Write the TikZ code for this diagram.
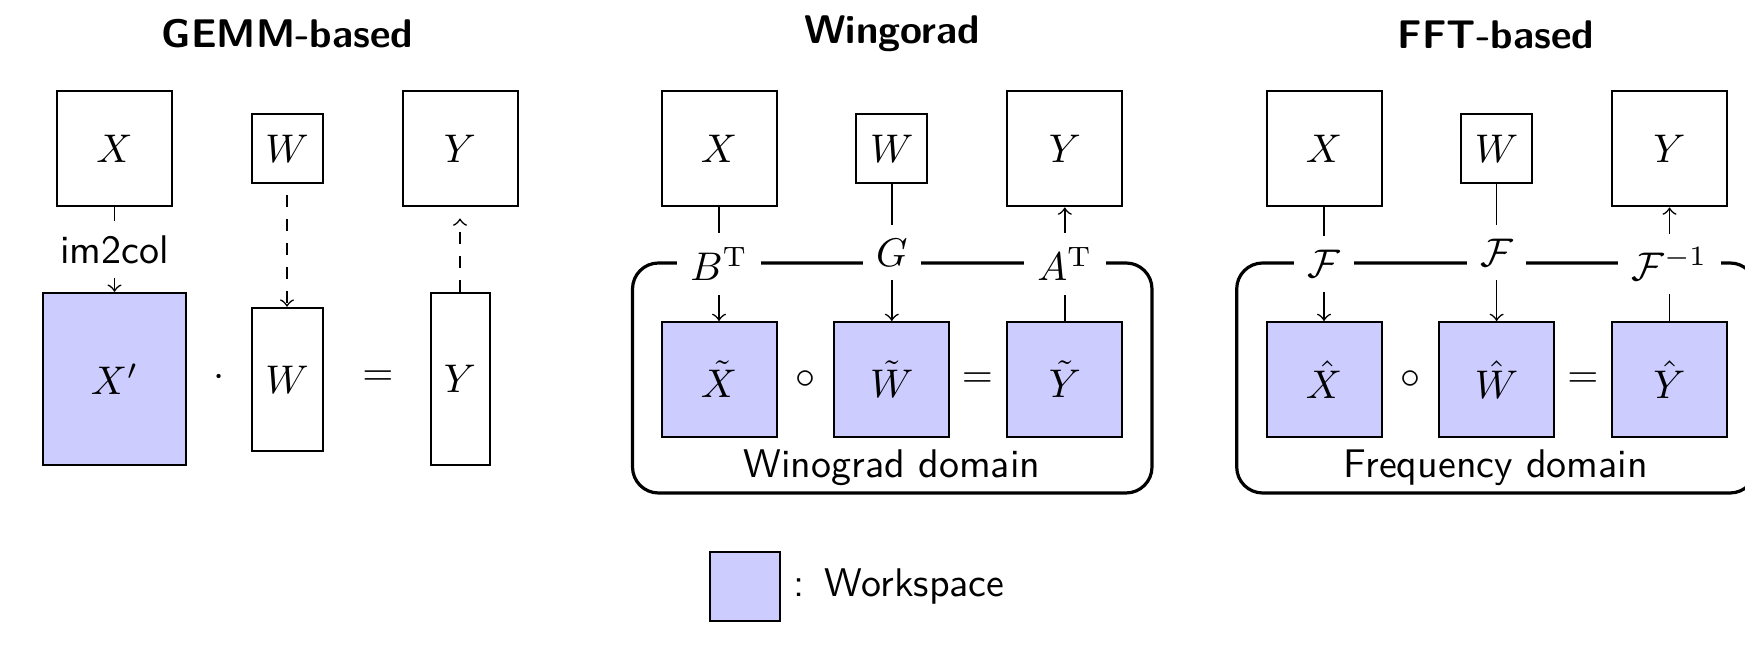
\documentclass[tikz,border=0pt]{standalone}
\usepackage{amsmath}
\begin{document}
\begin{tikzpicture}[x=0.25pt,y=-0.25pt,
  bx/.style={draw, line width=0.5pt, inner sep=0pt},
  big/.style={bx, minimum width=28.75pt, minimum height=28.75pt},
  small/.style={bx, minimum width=17.75pt, minimum height=17.25pt},
  ws/.style={fill=blue!20},
  lbl/.style={fill=white},
  conn/.style={line width=0.4pt},
  arr/.style={conn,->},
  dconn/.style={conn,->,dashed},
  dom/.style={draw, line width=0.8pt, rounded corners=6.5pt},
  ttl/.style={font=\sffamily\bfseries, anchor=base},
  txt/.style={font=\sffamily}]
\useasboundingbox (0,0) rectangle (1745,649);

% ---------------- GEMM-based ----------------
\node[ttl] (gT) at (287.5,48) {GEMM-based};
\node[big] (gX) at (114.5,149) {$X$};
\node[small] (gW) at (287,149) {$W$};
\node[big] (gY) at (460,149) {$Y$};
\node[txt] (im) at (114.5,249.5) {im2col};
\node[bx,ws,minimum width=35.9pt,minimum height=43.1pt] (gXp) at (114.5,379) {$X'$};
\node[bx,minimum width=17.75pt,minimum height=35.9pt] (gWt) at (287,379.5) {$W$};
\node[bx,minimum width=14.75pt,minimum height=43.1pt] (gYt) at (460,379) {$Y$};
\node (gdot) at (219,378) {$\cdot$};
\node (geq) at (378,378) {$=$};
\draw[conn] (gX.south) -- (im.north);
\draw[arr] (im.south) -- (gXp.north);
\draw[dconn, shorten <=2.75pt] (gW.south) -- (gWt.north);
\draw[dconn, shorten >=2.75pt] (gYt.north) -- (gY.south);

% ---------------- Winograd ----------------
\node[ttl] (wT) at (892,43.5) {Wingorad};
\draw[dom] (632.5,263) rectangle (1152,493);
\node[big] (wX) at (719,149) {$X$};
\node[small] (wW) at (891.8,149) {$W$};
\node[big] (wY) at (1064.8,149) {$Y$};
\node[lbl] (wB) at (719,264) {$B^{\mathrm{T}}$};
\node[lbl] (wG) at (891.8,252.5) {$G$};
\node[lbl] (wA) at (1064.8,264) {$A^{\mathrm{T}}$};
\node[big,ws] (wXt) at (719,379.5) {$\tilde{X}$};
\node[big,ws] (wWt) at (891.8,379.5) {$\tilde{W}$};
\node[big,ws] (wYt) at (1064.8,379.5) {$\tilde{Y}$};
\node (wc) at (805.3,380) {$\circ$};
\node (weq) at (977.3,380) {$=$};
\node[txt,anchor=base] (wD) at (892,478) {Winograd domain};
\draw[conn] (wX.south) -- (wB.north);
\draw[arr] (wB.south) -- (wXt.north);
\draw[conn] (wW.south) -- (wG.north);
\draw[arr] (wG.south) -- (wWt.north);
\draw[conn] (wYt.north) -- (wA.south);
\draw[arr] (wA.north) -- (wY.south);

% ---------------- FFT-based ----------------
\node[ttl] (fT) at (1496,48.3) {FFT-based};
\draw[dom] (1236.7,263) rectangle (1756,493);
\node[big] (fX) at (1324,149) {$X$};
\node[small] (fW) at (1496.6,149) {$W$};
\node[big] (fY) at (1669.5,149) {$Y$};
\node[lbl] (fF1) at (1324,264) {$\mathcal{F}$};
\node[lbl] (fF2) at (1496.6,252.5) {$\mathcal{F}$};
\node[lbl] (fF3) at (1669.5,264) {$\mathcal{F}^{-1}$};
\node[big,ws] (fXh) at (1324,379.5) {$\hat{X}$};
\node[big,ws] (fWh) at (1496.6,379.5) {$\hat{W}$};
\node[big,ws] (fYh) at (1669.5,379.5) {$\hat{Y}$};
\node (fc) at (1410,380) {$\circ$};
\node (feq) at (1583,380) {$=$};
\node[txt,anchor=base] (fD) at (1496,478) {Frequency domain};
\draw[conn] (fX.south) -- (fF1.north);
\draw[arr] (fF1.south) -- (fXh.north);
\draw[conn] (fW.south) -- (fF2.north);
\draw[arr] (fF2.south) -- (fWh.north);
\draw[conn] (fYh.north) -- (fF3.south);
\draw[arr] (fF3.north) -- (fY.south);

% ---------------- Legend ----------------
\node[bx,ws,minimum width=17.5pt,minimum height=17.25pt] (lg) at (745,586.5) {};
\node[txt,anchor=base west,inner sep=0pt] (lgt) at (793,597) {:\enspace Workspace};
\end{tikzpicture}
\end{document}
